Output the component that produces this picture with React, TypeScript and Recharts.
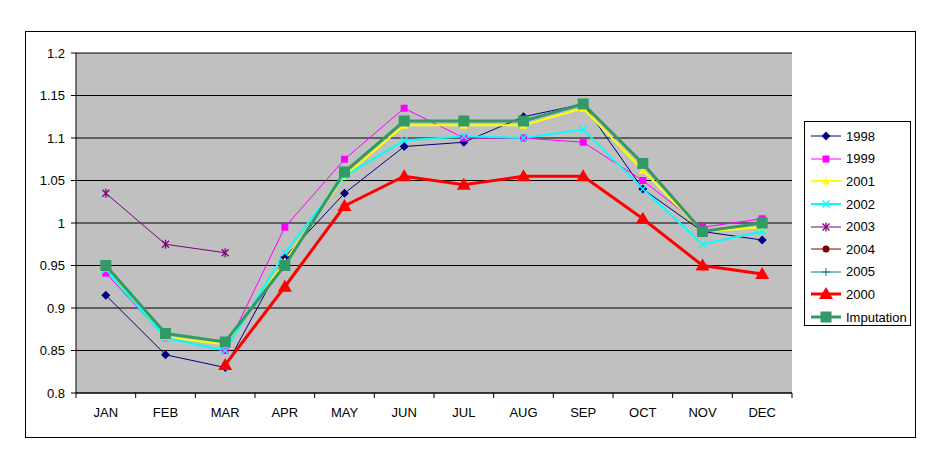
import React from "react";
import { LineChart, Line, XAxis, YAxis, CartesianGrid } from "recharts";

const months = ["JAN", "FEB", "MAR", "APR", "MAY", "JUN", "JUL", "AUG", "SEP", "OCT", "NOV", "DEC"];
const yTicks = [0.8, 0.85, 0.9, 0.95, 1, 1.05, 1.1, 1.15, 1.2];

const s1998 = [0.915, 0.845, 0.83, 0.96, 1.035, 1.09, 1.095, 1.125, 1.14, 1.04, 0.99, 0.98];
const s1999 = [0.941, 0.865, 0.85, 0.995, 1.075, 1.135, 1.1, 1.1, 1.095, 1.05, 0.995, 1.005];
const s2001 = [0.947, 0.866, 0.857, 0.955, 1.055, 1.115, 1.115, 1.115, 1.135, 1.062, 0.99, 0.995];
const s2002 = [0.945, 0.865, 0.85, 0.965, 1.055, 1.097, 1.102, 1.1, 1.11, 1.04, 0.975, 0.99];
const s2003 = [1.035, 0.975, 0.965, null, null, null, null, null, null, null, null, null];
const s2004 = [null, null, null, null, null, null, null, null, null, null, null, null];
const s2005 = [null, null, null, null, null, null, null, null, null, null, null, null];
const s2000 = [null, null, 0.833, 0.925, 1.02, 1.055, 1.045, 1.055, 1.055, 1.005, 0.95, 0.94];
const imputation = [0.95, 0.87, 0.86, 0.95, 1.06, 1.12, 1.12, 1.12, 1.14, 1.07, 0.99, 1.0];

type Marker = "diamond" | "square" | "triangle" | "cross" | "star" | "circle" | "plus" | "bigTriangle" | "bigSquare";

const series: { name: string; values: (number | null)[]; color: string; width: number; marker: Marker }[] = [
  { name: "1998", values: s1998, color: "#000080", width: 1, marker: "diamond" },
  { name: "1999", values: s1999, color: "#FF00FF", width: 1, marker: "square" },
  { name: "2001", values: s2001, color: "#FFFF00", width: 2, marker: "triangle" },
  { name: "2002", values: s2002, color: "#00FFFF", width: 2, marker: "cross" },
  { name: "2003", values: s2003, color: "#800080", width: 1, marker: "star" },
  { name: "2004", values: s2004, color: "#800000", width: 1, marker: "circle" },
  { name: "2005", values: s2005, color: "#008080", width: 1, marker: "plus" },
  { name: "2000", values: s2000, color: "#FF0000", width: 3, marker: "bigTriangle" },
  { name: "Imputation", values: imputation, color: "#339966", width: 3, marker: "bigSquare" },
];

const data = months.map((m, i) => {
  const row: Record<string, string | number | null> = { month: m };
  series.forEach((s) => (row[s.name] = s.values[i]));
  return row;
});

const FONT = "'Liberation Sans', Arial, sans-serif";
const BAND = (792 - 76) / 12;

const drawMarker = (kind: Marker, color: string, cx: number, cy: number, key?: string) => {
  switch (kind) {
    case "diamond":
      return <polygon key={key} points={`${cx},${cy - 4.5} ${cx + 4.5},${cy} ${cx},${cy + 4.5} ${cx - 4.5},${cy}`} fill={color} />;
    case "square":
      return <rect key={key} x={cx - 3.5} y={cy - 3.5} width={7} height={7} fill={color} />;
    case "triangle":
      return <polygon key={key} points={`${cx},${cy - 4} ${cx + 4},${cy + 3.5} ${cx - 4},${cy + 3.5}`} fill={color} />;
    case "cross":
      return (
        <g key={key} stroke={color} strokeWidth={1.5}>
          <line x1={cx - 3.5} y1={cy - 3.5} x2={cx + 3.5} y2={cy + 3.5} />
          <line x1={cx - 3.5} y1={cy + 3.5} x2={cx + 3.5} y2={cy - 3.5} />
        </g>
      );
    case "star":
      return (
        <g key={key} stroke={color} strokeWidth={1.3}>
          <line x1={cx - 3.5} y1={cy - 3.5} x2={cx + 3.5} y2={cy + 3.5} />
          <line x1={cx - 3.5} y1={cy + 3.5} x2={cx + 3.5} y2={cy - 3.5} />
          <line x1={cx} y1={cy - 4.5} x2={cx} y2={cy + 4.5} />
        </g>
      );
    case "circle":
      return <circle key={key} cx={cx} cy={cy} r={3.5} fill={color} />;
    case "plus":
      return (
        <g key={key} stroke={color} strokeWidth={1}>
          <line x1={cx - 4} y1={cy} x2={cx + 4} y2={cy} />
          <line x1={cx} y1={cy - 4} x2={cx} y2={cy + 4} />
        </g>
      );
    case "bigTriangle":
      return <polygon key={key} points={`${cx},${cy - 7} ${cx + 7},${cy + 5} ${cx - 7},${cy + 5}`} fill={color} />;
    case "bigSquare":
      return <rect key={key} x={cx - 5.5} y={cy - 5.5} width={11} height={11} fill={color} />;
  }
};

const MonthTick = (props: any) => {
  const { x, y, payload, index } = props;
  const top = y - 15;
  return (
    <g>
      <line x1={x - BAND / 2} x2={x - BAND / 2} y1={top} y2={top + 5} stroke="#000" />
      {index === months.length - 1 && <line x1={x + BAND / 2} x2={x + BAND / 2} y1={top} y2={top + 5} stroke="#000" />}
      <text x={x} y={y} dy="0.71em" textAnchor="middle" fontSize={13} fontFamily={FONT} fill="#000">
        {payload.value}
      </text>
    </g>
  );
};

const ChartLegend = () => (
  <div
    style={{
      position: "absolute",
      left: 804,
      top: 121,
      width: 107,
      height: 205,
      boxSizing: "border-box",
      border: "1px solid #000",
      background: "#fff",
      fontFamily: FONT,
      fontSize: 13,
      paddingTop: 3,
    }}
  >
    {series.map((s) => (
      <div key={s.name} style={{ display: "flex", alignItems: "center", height: 22.6 }}>
        <svg width={36} height={16} style={{ marginLeft: 4 }}>
          <line x1={2} x2={32} y1={8} y2={8} stroke={s.color} strokeWidth={s.width} />
          {drawMarker(s.marker, s.color, 17, 8)}
        </svg>
        <span style={{ marginLeft: 1 }}>{s.name}</span>
      </div>
    ))}
  </div>
);

export default function App() {
  return (
    <div style={{ position: "absolute", left: 0, top: 0, width: 942, height: 463, background: "#fff" }}>
      <div
        style={{
          position: "absolute",
          left: 25,
          top: 31,
          width: 891,
          height: 407,
          boxSizing: "border-box",
          border: "1px solid #000",
        }}
      />
      <div style={{ position: "absolute", left: 0, top: 0 }}>
        <LineChart width={942} height={463} data={data} margin={{ top: 53, right: 150, left: 26, bottom: 40 }}>
          <CartesianGrid vertical={false} fill="#C0C0C0" stroke="#000" strokeOpacity={1} horizontalValues={yTicks} />
          <XAxis
            dataKey="month"
            scale="band"
            height={30}
            tick={<MonthTick />}
            tickLine={false}
            tickSize={5}
            tickMargin={10}
            axisLine={{ stroke: "#000" }}
            interval={0}
          />
          <YAxis
            width={50}
            domain={[0.8, 1.2]}
            ticks={yTicks}
            interval={0}
            tickFormatter={(v: number) => String(Number(v.toFixed(2)))}
            tick={{ fontSize: 13, fontFamily: FONT, fill: "#000" }}
            tickSize={5}
            tickMargin={6}
            tickLine={{ stroke: "#000" }}
            axisLine={{ stroke: "#000" }}
          />
          {series.map((s) => (
            <Line
              key={s.name}
              type="linear"
              dataKey={s.name}
              stroke={s.color}
              strokeWidth={s.width}
              isAnimationActive={false}
              dot={(p: any) =>
                p.cx == null || p.cy == null || p.value == null
                  ? <g key={`${s.name}-${p.index}`} />
                  : drawMarker(s.marker, s.color, p.cx, p.cy, `${s.name}-${p.index}`)
              }
              activeDot={false}
            />
          ))}
        </LineChart>
      </div>
      <ChartLegend />
    </div>
  );
}
